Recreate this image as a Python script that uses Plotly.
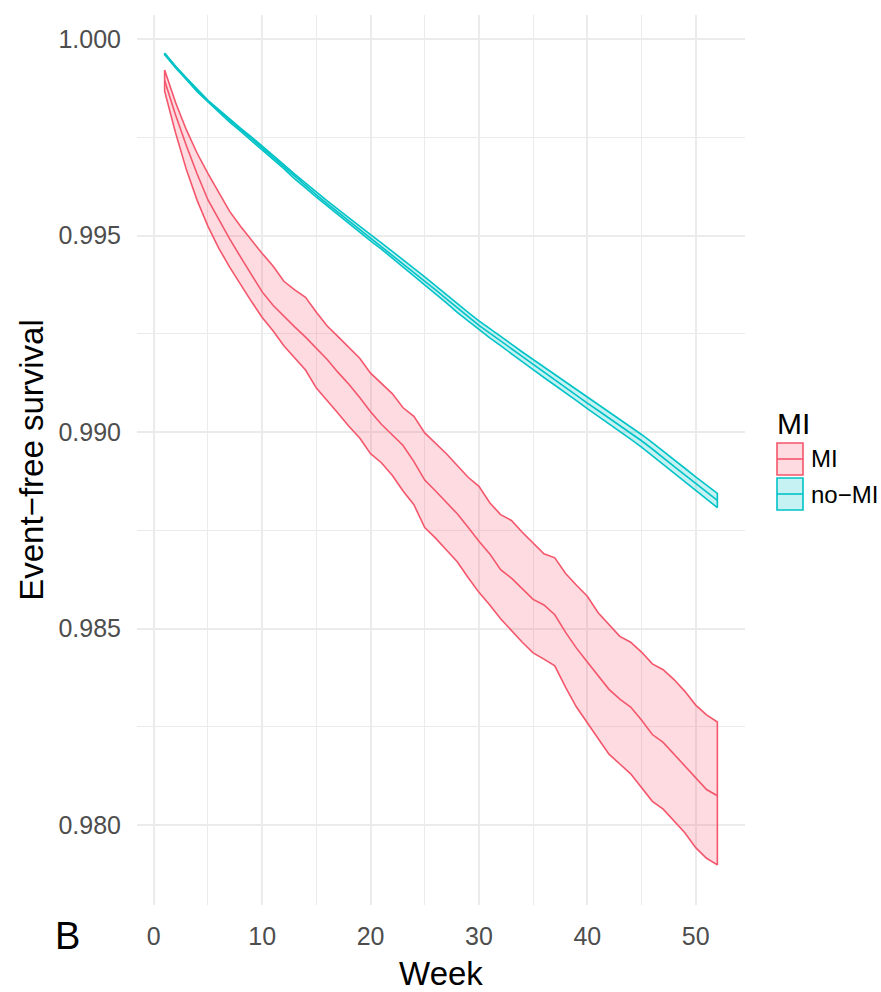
import plotly.graph_objects as go

# ---------------- data ----------------
weeks = list(range(1, 53))

mi_center = [0.99895, 0.99808, 0.99730, 0.99657, 0.99591, 0.99540, 0.99492, 0.99446, 0.99401, 0.99357,
             0.99323, 0.99295, 0.99268, 0.99242, 0.99214, 0.99185, 0.99152, 0.99122, 0.99088, 0.99052,
             0.99020, 0.98992, 0.98966, 0.98925, 0.98878, 0.98850, 0.98820, 0.98792, 0.98758, 0.98722,
             0.98690, 0.98650, 0.98628, 0.98600, 0.98574, 0.98560, 0.98535, 0.98490, 0.98450, 0.98415,
             0.98380, 0.98345, 0.98320, 0.98300, 0.98267, 0.98230, 0.98210, 0.98180, 0.98150, 0.98120,
             0.98090, 0.98074]
mi_upper = [0.99922, 0.99840, 0.99770, 0.99710, 0.99658, 0.99608, 0.99562, 0.99524, 0.99488, 0.99455,
            0.99423, 0.99384, 0.99362, 0.99343, 0.99305, 0.99270, 0.99243, 0.99216, 0.99188, 0.99150,
            0.99125, 0.99098, 0.99062, 0.99040, 0.98998, 0.98972, 0.98945, 0.98915, 0.98885, 0.98862,
            0.98820, 0.98790, 0.98775, 0.98745, 0.98718, 0.98690, 0.98680, 0.98640, 0.98610, 0.98582,
            0.98540, 0.98510, 0.98480, 0.98465, 0.98440, 0.98410, 0.98395, 0.98370, 0.98340, 0.98305,
            0.98280, 0.98262]
mi_lower = [0.99868, 0.99763, 0.99669, 0.99590, 0.99524, 0.99468, 0.99420, 0.99376, 0.99333, 0.99292,
            0.99258, 0.99220, 0.99190, 0.99158, 0.99112, 0.99080, 0.99048, 0.99015, 0.98985, 0.98945,
            0.98922, 0.98890, 0.98850, 0.98815, 0.98757, 0.98730, 0.98700, 0.98670, 0.98630, 0.98592,
            0.98560, 0.98525, 0.98495, 0.98465, 0.98438, 0.98422, 0.98405, 0.98350, 0.98300, 0.98260,
            0.98220, 0.98180, 0.98155, 0.98130, 0.98094, 0.98060, 0.98040, 0.98010, 0.97980, 0.97942,
            0.97915, 0.97898]

nomi_center = [0.99963, 0.99930, 0.99900, 0.99870, 0.99842, 0.99818, 0.99793, 0.99770, 0.99748, 0.99724,
               0.99700, 0.99676, 0.99651, 0.99628, 0.99604, 0.99582, 0.99560, 0.99538, 0.99517, 0.99495,
               0.99474, 0.99452, 0.99430, 0.99408, 0.99385, 0.99362, 0.99339, 0.99316, 0.99294, 0.99272,
               0.99252, 0.99232, 0.99212, 0.99192, 0.99172, 0.99152, 0.99133, 0.99113, 0.99094, 0.99074,
               0.99055, 0.99036, 0.99016, 0.98997, 0.98978, 0.98957, 0.98936, 0.98913, 0.98891, 0.98869,
               0.98848, 0.98826]
nomi_upper = [0.99965, 0.99932, 0.99902, 0.99873, 0.99845, 0.99821, 0.99797, 0.99774, 0.99752, 0.99729,
              0.99705, 0.99681, 0.99657, 0.99634, 0.99610, 0.99589, 0.99567, 0.99545, 0.99525, 0.99503,
              0.99482, 0.99461, 0.99439, 0.99417, 0.99395, 0.99372, 0.99349, 0.99327, 0.99305, 0.99283,
              0.99264, 0.99244, 0.99224, 0.99204, 0.99185, 0.99165, 0.99146, 0.99127, 0.99108, 0.99088,
              0.99069, 0.99051, 0.99031, 0.99012, 0.98994, 0.98973, 0.98952, 0.98930, 0.98908, 0.98886,
              0.98866, 0.98844]
nomi_lower = [0.99961, 0.99928, 0.99898, 0.99867, 0.99839, 0.99815, 0.99789, 0.99766, 0.99744, 0.99719,
              0.99695, 0.99671, 0.99645, 0.99622, 0.99598, 0.99575, 0.99553, 0.99531, 0.99509, 0.99487,
              0.99466, 0.99443, 0.99421, 0.99399, 0.99375, 0.99352, 0.99329, 0.99305, 0.99283, 0.99261,
              0.99240, 0.99220, 0.99200, 0.99180, 0.99159, 0.99139, 0.99120, 0.99099, 0.99080, 0.99060,
              0.99041, 0.99021, 0.99001, 0.98982, 0.98962, 0.98941, 0.98920, 0.98896, 0.98874, 0.98852,
              0.98830, 0.98808]

group_names = ["MI", "no\u2212MI"]
line_colors = ["#F4566B", "#00C3C7"]
fill_colors = ["rgba(244,86,107,0.21)", "rgba(0,195,199,0.22)"]

x_ticks = [0, 10, 20, 30, 40, 50]
y_ticks = [0.980, 0.985, 0.990, 0.995, 1.000]

# ---------------- figure ----------------
W, H = 881, 992
L, R, T, B = 137, 136, 15, 87
PW, PH = W - L - R, H - T - B

def px2x(px):
    return (px - L) / PW

def px2y(py):
    return (H - B - py) / PH

FONT = "Liberation Sans, Arial, Helvetica, sans-serif"

fig = go.Figure()

series = [
    (mi_center, mi_upper, mi_lower),
    (nomi_center, nomi_upper, nomi_lower),
]

for (cen, up, lo), name, lc, fc in zip(series, group_names, line_colors, fill_colors):
    xs = weeks + weeks[::-1] + [weeks[0]]
    ys = up + lo[::-1] + [up[0]]
    fig.add_trace(go.Scatter(
        x=xs, y=ys, mode="lines", fill="toself", fillcolor=fc,
        line=dict(color=lc, width=1.6), name=name, showlegend=False,
        hoverinfo="skip"))
    fig.add_trace(go.Scatter(
        x=weeks, y=cen, mode="lines", line=dict(color=lc, width=1.6),
        name=name, showlegend=False))

fig.update_layout(
    width=W, height=H,
    margin=dict(l=L, r=R, t=T, b=B, autoexpand=False),
    paper_bgcolor="white", plot_bgcolor="white",
    font=dict(family=FONT, color="#4D4D4D"),
    showlegend=False,
)

fig.update_xaxes(
    range=[-1.55, 54.55], tickmode="array", tickvals=x_ticks,
    ticktext=[str(v) for v in x_ticks],
    showgrid=True, gridcolor="#EBEBEB", gridwidth=1.6,
    minor=dict(dtick=5, tick0=0, showgrid=True, gridcolor="#EBEBEB", gridwidth=1),
    zeroline=False, showline=False, ticks="",
    tickfont=dict(size=25, color="#4D4D4D", family=FONT),
    ticklabelstandoff=14,
    title=dict(text="Week", font=dict(size=33, color="black", family=FONT), standoff=12),
)
fig.update_yaxes(
    range=[0.97796, 1.00062], tickmode="array", tickvals=y_ticks,
    ticktext=["%.3f" % v for v in y_ticks],
    showgrid=True, gridcolor="#EBEBEB", gridwidth=1.6,
    minor=dict(dtick=0.0025, tick0=0.98, showgrid=True, gridcolor="#EBEBEB", gridwidth=1),
    zeroline=False, showline=False, ticks="",
    tickfont=dict(size=25, color="#4D4D4D", family=FONT),
    ticklabelstandoff=15,
    title=dict(text="Event\u2212free survival", font=dict(size=33, color="black", family=FONT), standoff=4),
)

# ---------------- legend (ggplot-style keys) ----------------
fig.add_annotation(x=px2x(775), y=px2y(423), xref="paper", yref="paper",
                   text="MI", showarrow=False, xanchor="left", yanchor="middle",
                   font=dict(size=30, color="black", family=FONT))
key_tops = [443, 478]
for name, lc, fc, top in zip(group_names, line_colors, fill_colors, key_tops):
    bot = top + 32
    fig.add_shape(type="rect", xref="paper", yref="paper",
                  x0=px2x(777), x1=px2x(803), y0=px2y(bot), y1=px2y(top),
                  fillcolor=fc, line=dict(color=lc, width=1.6))
    fig.add_shape(type="line", xref="paper", yref="paper",
                  x0=px2x(777), x1=px2x(803), y0=px2y((top + bot) / 2), y1=px2y((top + bot) / 2),
                  line=dict(color=lc, width=1.6))
    fig.add_annotation(x=px2x(809), y=px2y((top + bot) / 2), xref="paper", yref="paper",
                       text=name, showarrow=False, xanchor="left", yanchor="middle",
                       font=dict(size=24, color="black", family=FONT))

# panel tag
fig.add_annotation(x=px2x(67), y=px2y(936), xref="paper", yref="paper",
                   text="B", showarrow=False, xanchor="center", yanchor="middle",
                   font=dict(size=38, color="black", family=FONT))

fig.write_html("out.html", config={"displayModeBar": False},
               post_script="document.body.style.margin='0';document.body.style.overflow='hidden';")
